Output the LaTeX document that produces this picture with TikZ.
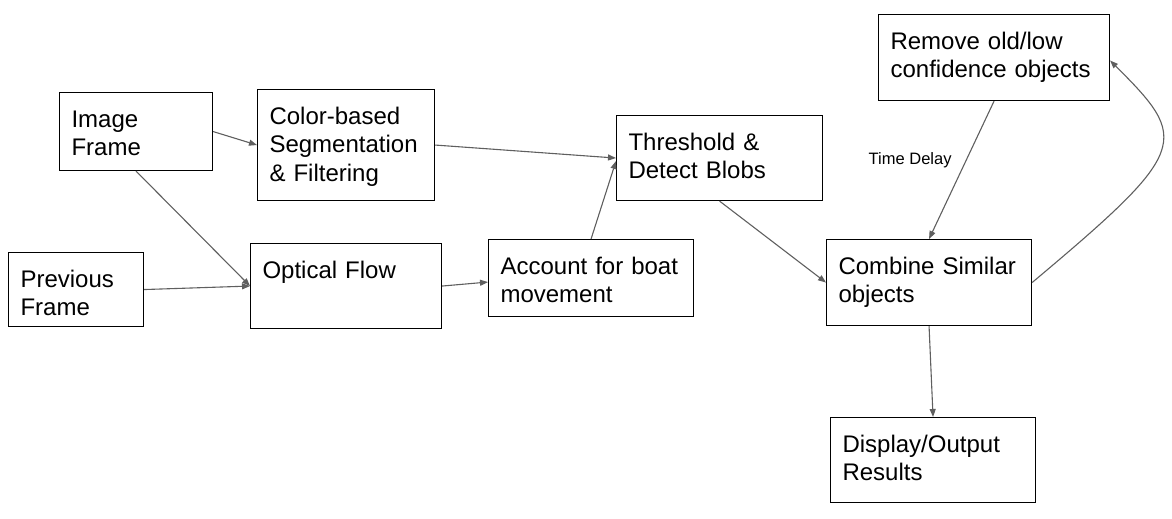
\documentclass[tikz,border=0pt]{standalone}
\usepackage{fontspec}
\setmainfont{Liberation Sans}
\usetikzlibrary{arrows.meta, positioning, calc}
\definecolor{wire}{HTML}{5F5F5F}
\tikzset{
  stage/.style 2 args={draw, line width=1.1pt, anchor=north west, align=left, inner xsep=12pt, inner ysep=0pt,
    text width=#1, text height=35pt, text depth=#2, font=\fontsize{24}{28.3}\selectfont},
  flow/.style={-{Triangle[length=8pt, width=6pt]}, draw=wire, line width=1.1pt},
  tag/.style={inner sep=2pt, font=\fontsize{16.5}{20}\selectfont},
}

\begin{document}
\begin{tikzpicture}[x=1pt, y=-1pt]
    \useasboundingbox (0,0) rectangle (1172,519);
    \node[stage={129pt}{43pt}] (img) at (59,92) {Image\\Frame};
    \node[stage={153pt}{76pt}] (seg) at (257,89) {Color-based\\Segmentation\\\& Filtering};
    \node[stage={111pt}{39pt}] (prev) at (8,252) {Previous\\Frame};
    \node[stage={167pt}{50pt}] (optf) at (250,243) {Optical Flow};
    \node[stage={182pt}{50pt}] (thresh) at (616,115) {Threshold \&\\Detect Blobs};
    \node[stage={181pt}{42pt}] (boat) at (488,239) {Account for boat\\movement};
    \node[stage={181pt}{51pt}] (comb) at (826,239) {Combine Similar\\objects};
    \node[stage={207pt}{51pt}] (purge) at (878,14) {Remove old/low\\confidence objects};
    \node[stage={181pt}{50pt}] (disp) at (830,417) {Display/Output\\Results};
    \draw[flow] (img.east) -- (seg.west);
    \draw[flow] (img.south) -- (optf.west);
    \draw[flow] (prev.east) -- (optf.west);
    \draw[flow] (seg.east) -- (thresh.west);
    \draw[flow] (optf.east) -- ([yshift=-4pt]boat.west);
    \draw[flow] (boat.north) -- ([yshift=-3pt]thresh.west);
    \draw[flow] (thresh.south) -- (comb.west);
    \draw[flow] (purge.south) -- node[tag, pos=0.43, left=12pt] {Time Delay} (comb.north);
    \draw[flow] (comb.east) .. controls (1190,150) and (1190,140) .. ([yshift=-3pt]purge.east);
    \draw[flow] (comb.south) -- (disp.north);
  \end{tikzpicture}
\end{document}
